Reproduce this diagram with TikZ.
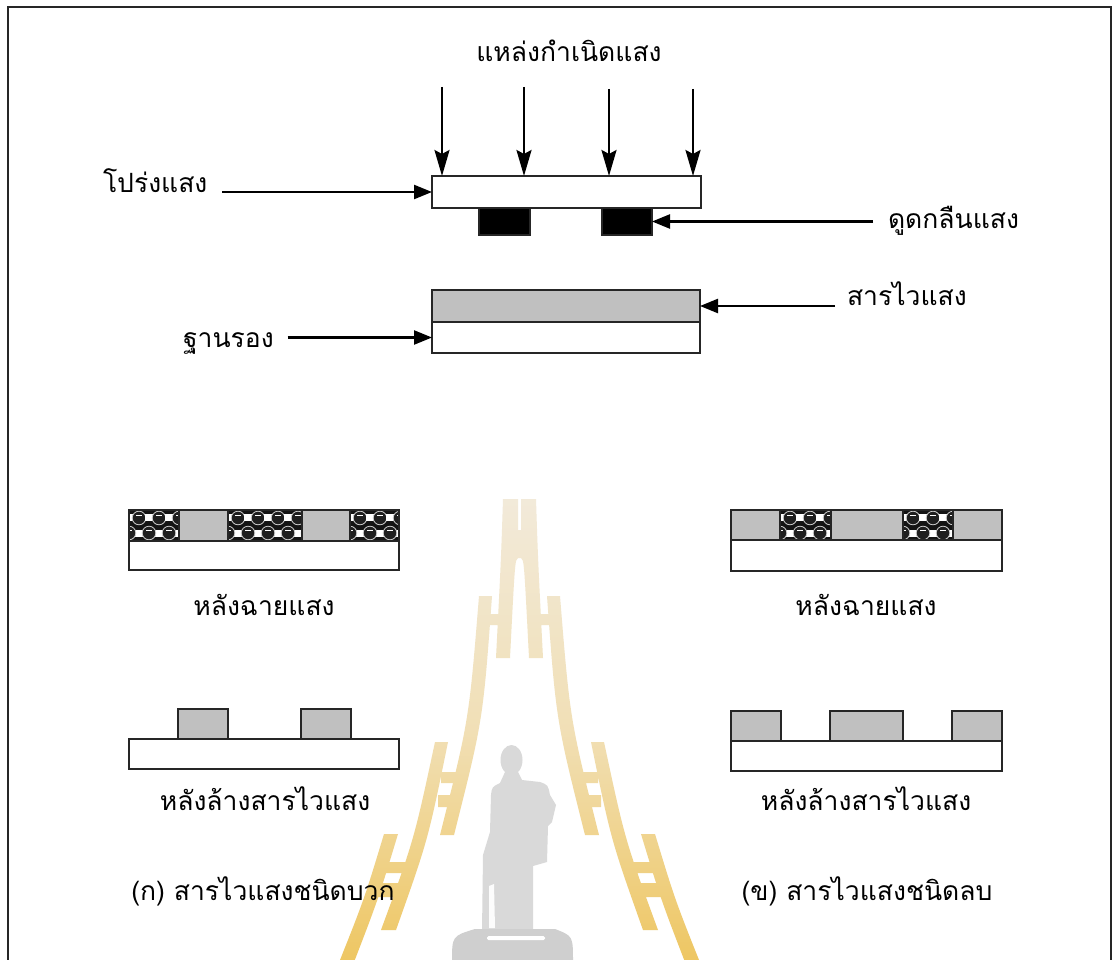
\documentclass[tikz,border=0pt]{standalone}
\usepackage{fontspec}
\newfontfamily\thaifont[Script=Thai]{Loma}
\usetikzlibrary{arrows.meta}

\definecolor{resist}{HTML}{C0C0C0}
\definecolor{edge}{HTML}{262626}
\definecolor{wmlight}{HTML}{F2EADA}
\definecolor{wmgold}{HTML}{EEC661}
\definecolor{statue}{HTML}{D9D9D9}
\definecolor{plinth}{HTML}{CFCFCF}

\tikzset{
  slab/.style={draw=edge, line width=1.6pt, inner sep=0pt, outer sep=0pt, anchor=north west},
  lbl/.style={font=\thaifont\fontsize{26.5}{30}\selectfont, inner sep=0pt, outer sep=0pt, text=black},
  pointer/.style={line width=2.4pt, -{Triangle[length=18pt,width=14pt]}},
  ray/.style={line width=2.4pt, -{Stealth[length=26pt,width=15pt,inset=4pt]}},
}

% exposed resist: dark ball texture inside a box (x1,y1,x2,y2)
\newcommand{\litzone}[4]{%
  \begin{scope}
    \clip (#1,#2) rectangle (#3,#4);
    \fill[black!92] (#1,#2) rectangle (#3,#4);
    \foreach \k in {-1,...,5}{
      \pgfmathsetmacro\xa{#1+20*\k}
      \fill[white] (\xa-4,#2+4) rectangle ++(8,7);
      \fill[white] (\xa+6,#2+20) rectangle ++(8,7);
      \filldraw[fill=black!88, draw=black!20, line width=0.8pt] (\xa+10,#2+8) circle (6.8);
      \filldraw[fill=black!88, draw=black!20, line width=0.8pt] (\xa,#2+23) circle (6.8);
      \fill[white] (\xa+7,#2+4.5) rectangle ++(6,1.8);
      \fill[white] (\xa-3,#2+19.5) rectangle ++(6,1.8);
    }
  \end{scope}
  \draw[edge, line width=1.6pt] (#1,#2) rectangle (#3,#4);
}

% clockwise box, so that overlapping pieces of the emblem join up
\newcommand{\cwbox}[4]{(#1,#2) -- (#3,#2) -- (#3,#4) -- (#1,#4) -- cycle}

% one half of the spire emblem (right side)
\newcommand{\spirehalf}{%
  (521,499) -- (536,499) .. controls (538,560) .. (543,658) -- (529,658) .. controls (524,560) .. (521,558)
     -- (519.5,558) -- (519.5,530) -- (521,530) -- cycle
  (547,596) -- (560,596) .. controls (570,720) .. (599,835) -- (585,835) .. controls (556,720) .. (547,596) -- cycle
  (591,742) -- (604,742) .. controls (625,840) .. (658,930) -- (643,930) .. controls (611,840) .. (591,742) -- cycle
  (641,834) -- (655,834) .. controls (675,900) .. (705,975) -- (690,975) .. controls (661,900) .. (641,834) -- cycle
  \cwbox{536}{614}{550}{625}
  \cwbox{578}{772}{598}{783}
  \cwbox{581}{795}{601}{807}
  \cwbox{632}{862}{660}{873}
  \cwbox{636}{883}{664}{897}
}

\begin{document}
\begin{tikzpicture}[x=1pt,y=-1pt]
\useasboundingbox (0,0) rectangle (1119,960);
\clip (0,0) rectangle (1119,960);
\fill[white] (0,0) rectangle (1119,960);

% ---- emblem in the background ----
\begin{scope}
  \clip \spirehalf;
  \shade[top color=wmlight, bottom color=wmgold, middle color=wmlight!70!wmgold] (300,495) rectangle (740,965);
\end{scope}
\begin{scope}[xshift=1039pt, xscale=-1]
  \clip \spirehalf;
  \shade[top color=wmlight, bottom color=wmgold, middle color=wmlight!70!wmgold] (300,495) rectangle (740,965);
\end{scope}
\fill[statue] (511.5,760) ellipse [x radius=11, y radius=15];
\fill[statue] (505,772) -- (518,772) -- (522,780) -- (540,782) .. controls (548,785) .. (550,795)
  -- (556,805) -- (552,822) -- (548,826) -- (547,862) -- (533,866) -- (533,932) -- (482,932)
  -- (483,855) -- (490,832) -- (491,795) .. controls (492,787) .. (500,783) -- cycle;
\fill[white!93!statue] (489,886) -- (494,884) -- (495,928) -- (489,928) -- cycle;
\fill[plinth] (452,962) .. controls (452,936) .. (475,929) -- (555,929) .. controls (573,936) .. (573,962) -- cycle;
\fill[white, rounded corners=1.5pt] (487,936) rectangle (545,940);

% ---- frame ----
\draw[edge, line width=1.8pt] (8,975) -- (8,7) -- (1111,7) -- (1111,975);

% ---- exposure set-up ----
\node[lbl, anchor=base] (title) at (569,62) {แหล่งกำเนิดแสง};
\node[slab, fill=white, minimum width=269pt, minimum height=32pt] (mask) at (432,176) {};
\node[slab, fill=black, minimum width=51pt, minimum height=27pt] (blkA) at (479,208) {};
\node[slab, fill=black, minimum width=50pt, minimum height=27pt] (blkB) at (602,208) {};
\node[slab, fill=resist, minimum width=268pt, minimum height=32pt] (film) at (432,290) {};
\node[slab, fill=white, minimum width=268pt, minimum height=31pt] (wafer) at (432,322) {};

\foreach \i/\x/\y in {1/442/87, 2/524/87, 3/609/89, 4/693/89}{
  \coordinate (src\i) at (\x,\y);
  \draw[ray] (src\i) -- (src\i |- mask.north);
}

\node[lbl, anchor=base west] (lblclear) at (103,193) {โปร่งแสง};
\node[lbl, anchor=base west] (lblsub) at (183,347) {ฐานรอง};
\node[lbl, anchor=base west] (lblabs) at (888,229) {ดูดกลืนแสง};
\node[lbl, anchor=base west] (lblres) at (847,305) {สารไวแสง};

\draw[pointer] ([xshift=15pt]lblclear.east |- mask.west) -- (mask.west);
\draw[pointer] ([xshift=14pt]lblsub.east |- wafer.west) -- (wafer.west);
\draw[pointer] ([xshift=-15pt]lblabs.west |- blkB.east) -- (blkB.east);
\draw[pointer] ([xshift=-12pt]lblres.west |- film.east) -- (film.east);

% ---- positive resist ----
\node[slab, fill=white, minimum width=270pt, minimum height=29pt] (posbase) at (129,541) {};
\node[slab, fill=resist, minimum width=49pt, minimum height=31pt] (posg1) at (179,510) {};
\node[slab, fill=resist, minimum width=48pt, minimum height=31pt] (posg2) at (302,510) {};
\litzone{129}{510}{179}{541}
\litzone{228}{510}{302}{541}
\litzone{350}{510}{399}{541}
\node[lbl, anchor=base] (posexp) at (264,615) {หลังฉายแสง};

\node[slab, fill=white, minimum width=270pt, minimum height=30pt] (posbase2) at (129,739) {};
\node[slab, fill=resist, minimum width=50pt, minimum height=30pt] (posd1) at (178,709) {};
\node[slab, fill=resist, minimum width=50pt, minimum height=30pt] (posd2) at (301,709) {};
\node[lbl, anchor=base] (posdev) at (265,810) {หลังล้างสารไวแสง};
\node[lbl, anchor=base] (poscap) at (263,900) {(ก) สารไวแสงชนิดบวก};

% ---- negative resist ----
\node[slab, fill=white, minimum width=271pt, minimum height=31pt] (negbase) at (731,540) {};
\node[slab, fill=resist, minimum width=271pt, minimum height=30pt] (negfilm) at (731,510) {};
\litzone{780}{510}{831}{540}
\litzone{903}{510}{953}{540}
\node[lbl, anchor=base] (negexp) at (866,615) {หลังฉายแสง};

\node[slab, fill=white, minimum width=271pt, minimum height=30pt] (negbase2) at (731,741) {};
\node[slab, fill=resist, minimum width=50pt, minimum height=30pt] (negd1) at (731,711) {};
\node[slab, fill=resist, minimum width=73pt, minimum height=30pt] (negd2) at (830,711) {};
\node[slab, fill=resist, minimum width=50pt, minimum height=30pt] (negd3) at (952,711) {};
\node[lbl, anchor=base] (negdev) at (866,810) {หลังล้างสารไวแสง};
\node[lbl, anchor=base] (negcap) at (867,900) {(ข) สารไวแสงชนิดลบ};
\end{tikzpicture}
\end{document}
